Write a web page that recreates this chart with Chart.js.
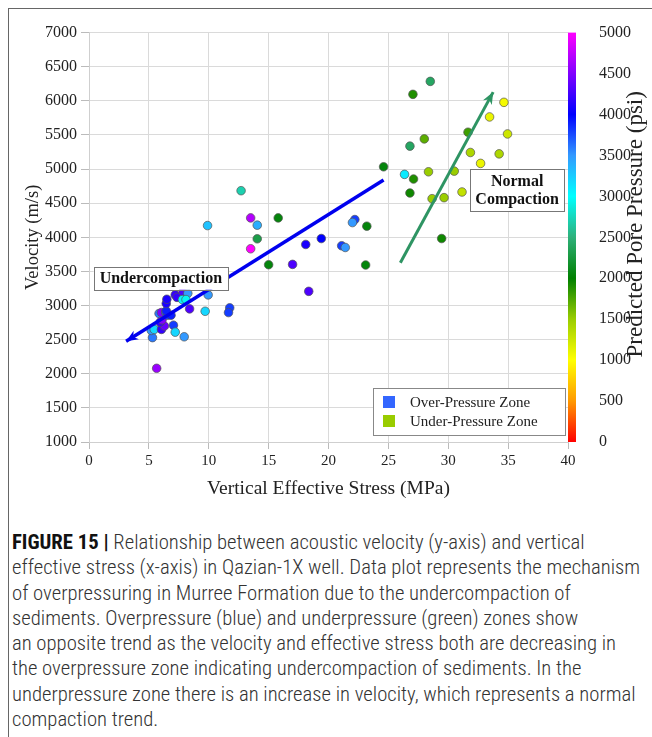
<!DOCTYPE html>
<html>
<head>
<meta charset="utf-8">
<script src="https://cdn.jsdelivr.net/npm/chart.js@4/dist/chart.umd.min.js"></script>
<style>
  html, body { margin: 0; padding: 0; background: #fff; }
  body { width: 652px; height: 737px; position: relative; overflow: hidden; }
  #frame { position: absolute; left: 8px; top: 8px; width: 700px; height: 800px;
           border-left: 1px solid #666; border-top: 1px solid #666; }
  #wrap { position: absolute; left: 0; top: 0; width: 652px; height: 505px; }
  #caption { position: absolute; left: 12px; top: 530px; white-space: nowrap;
             font-family: "Liberation Sans Narrow", "Roboto Condensed", Roboto, sans-serif;
             font-size: 20.7px; line-height: 25.3px; color: #333; font-weight: 300; }
  #caption b { font-weight: bold; color: #111; }
</style>
</head>
<body>
<div id="frame"></div>
<div id="wrap"><canvas id="chart" width="652" height="505"></canvas></div>
<div id="caption">
<b>FIGURE 15 |</b> Relationship between acoustic velocity (y-axis) and vertical<br>
effective stress (x-axis) in Qazian-1X well. Data plot represents the mechanism<br>
of overpressuring in Murree Formation due to the undercompaction of<br>
sediments. Overpressure (blue) and underpressure (green) zones show<br>
an opposite trend as the velocity and effective stress both are decreasing in<br>
the overpressure zone indicating undercompaction of sediments. In the<br>
underpressure zone there is an increase in velocity, which represents a normal<br>
compaction trend.
</div>
<script>
// Over-pressure zone samples: effective stress (MPa), velocity (m/s), pore pressure (psi)
const stressOver = [5.65, 5.3, 5.2, 5.45, 6.05, 6.3, 5.95, 6.1, 5.85, 6.05, 6.4, 6.55, 6.85, 6.45, 6.45, 6.5,
                    7.05, 7.2, 7.95, 7.2, 7.35, 7.85, 8.25, 7.8, 8.1, 8.4, 9.7, 9.95, 11.75, 11.65,
                    9.9, 13.5, 13.5, 14.05, 17.0, 18.1, 19.4, 18.35, 21.1, 21.4, 22.2, 22.0, 26.35];
const velocityOver = [2080, 2530, 2635, 2650, 2650, 2700, 2756, 2790, 2883, 2897, 2900, 2858, 2858, 2922, 3029, 3092,
                      2712, 2610, 2542, 3156, 3120, 3200, 3179, 3087, 3087, 2951, 2916, 3156, 2966, 2897,
                      4172, 4284, 3832, 4178, 3603, 3895, 3982, 3208, 3876, 3851, 4260, 4216, 4922];
const pressureOver = [4600, 3600, 3500, 3200, 4200, 4400, 4200, 4500, 3600, 4500, 3700, 3800, 3900, 3900, 4100, 4100,
                      3800, 3200, 3500, 4200, 4200, 4300, 3500, 3050, 2950, 4300, 3200, 3500, 3800, 3800,
                      3300, 4700, 5000, 3400, 4300, 4100, 4000, 4300, 3800, 3500, 3800, 3500, 3100];

// Under-pressure zone samples
const stressUnder = [12.7, 14.05, 15.8, 15.0, 23.2, 23.1, 24.6,
                     28.5, 27.05, 34.65, 33.45, 31.65, 34.95, 28.0, 26.8, 31.85, 34.25, 32.7,
                     28.35, 30.5, 27.1, 26.8, 28.65, 29.65, 31.15, 29.45];
const velocityUnder = [4683, 3978, 4284, 3598, 4163, 3594, 5033,
                       6285, 6095, 5978, 5764, 5540, 5515, 5442, 5336, 5243, 5223, 5083,
                       4960, 4970, 4854, 4649, 4566, 4581, 4664, 3982];
const pressureUnder = [2700, 2300, 2050, 2050, 2050, 2050, 2050,
                       2400, 1900, 1050, 1100, 1800, 1250, 1700, 2400, 1400, 1400, 1100,
                       1500, 1500, 1900, 1950, 1500, 1500, 1300, 1950];

// Trend arrows (tail -> head) in data units
const undercompactionX = [24.6, 3.1];
const undercompactionY = [4840, 2475];
const normalCompactionX = [26.0, 33.75];
const normalCompactionY = [3627, 6128];

// Axis ticks
const stressTicks = [0, 5, 10, 15, 20, 25, 30, 35, 40];
const velocityTicks = [1000, 1500, 2000, 2500, 3000, 3500, 4000, 4500, 5000, 5500, 6000, 6500, 7000];
const pressureTicks = [0, 500, 1000, 1500, 2000, 2500, 3000, 3500, 4000, 4500, 5000];

// Colour scale for pore pressure
const cmapValues = [0, 500, 1000, 1500, 2000, 2500, 3000, 3500, 4000, 4500, 5000];
const cmapColors = ['#ff0000', '#ff9900', '#ffff00', '#9acd00', '#008000', '#2eb07a',
                    '#00ffff', '#3399ff', '#0000ff', '#8000ff', '#ff00ff'];

const legendNames = ['Over-Pressure Zone', 'Under-Pressure Zone'];
const legendColors = ['#3366ff', '#99cc00'];

function hexToRgb(h) {
  return [parseInt(h.slice(1, 3), 16), parseInt(h.slice(3, 5), 16), parseInt(h.slice(5, 7), 16)];
}
function pressureColor(v) {
  if (v <= cmapValues[0]) return cmapColors[0];
  for (let i = 1; i < cmapValues.length; i++) {
    if (v <= cmapValues[i]) {
      const t = (v - cmapValues[i - 1]) / (cmapValues[i] - cmapValues[i - 1]);
      const a = hexToRgb(cmapColors[i - 1]), b = hexToRgb(cmapColors[i]);
      const c = a.map((x, k) => Math.round(x + (b[k] - x) * t));
      return `rgb(${c[0]},${c[1]},${c[2]})`;
    }
  }
  return cmapColors[cmapColors.length - 1];
}
const zip = (xs, ys) => xs.map((x, i) => ({ x, y: ys[i] }));

const serif = 'Liberation Serif, Times New Roman, serif';
const ink = '#222';
Chart.defaults.font.family = serif;
Chart.defaults.color = ink;

// Gradient bar + its title, next to the plot
const colorBarPlugin = {
  id: 'colorBar',
  afterDraw(chart) {
    const { ctx, chartArea } = chart;
    const s = chart.scales.psi;
    const x0 = chartArea.right, w = 8;
    const yTop = s.getPixelForValue(5000), yBot = s.getPixelForValue(0);
    const g = ctx.createLinearGradient(0, yBot, 0, yTop);
    cmapValues.forEach((v, i) => g.addColorStop(v / 5000, cmapColors[i]));
    ctx.save();
    ctx.fillStyle = g;
    ctx.fillRect(x0, yTop, w, yBot - yTop);
    ctx.translate(636, (yTop + yBot) / 2 - 13);
    ctx.rotate(-Math.PI / 2);
    ctx.font = `23px ${serif}`;
    ctx.fillStyle = ink;
    ctx.textAlign = 'center';
    ctx.textBaseline = 'middle';
    ctx.fillText('Predicted Pore Pressure (psi)', 0, 0);
    ctx.restore();
  }
};

// Arrow heads on the trend lines, text boxes and the in-plot legend
const annotatePlugin = {
  id: 'annotate',
  afterDatasetsDraw(chart) {
    const { ctx, chartArea } = chart;
    const xs = chart.scales.x, ys = chart.scales.y;
    const arrow = (X, Y, color) => {
      const n = X.length;
      const x1 = xs.getPixelForValue(X[n - 2]), y1 = ys.getPixelForValue(Y[n - 2]);
      const x2 = xs.getPixelForValue(X[n - 1]), y2 = ys.getPixelForValue(Y[n - 1]);
      const a = Math.atan2(y2 - y1, x2 - x1);
      const L = 12, W = 5;
      ctx.save();
      ctx.fillStyle = color;
      ctx.beginPath();
      ctx.moveTo(x2, y2);
      ctx.lineTo(x2 - L * Math.cos(a) + W * Math.sin(a), y2 - L * Math.sin(a) - W * Math.cos(a));
      ctx.lineTo(x2 - L * 0.7 * Math.cos(a), y2 - L * 0.7 * Math.sin(a));
      ctx.lineTo(x2 - L * Math.cos(a) - W * Math.sin(a), y2 - L * Math.sin(a) + W * Math.cos(a));
      ctx.closePath();
      ctx.fill();
      ctx.restore();
    };
    arrow(undercompactionX, undercompactionY, '#0000ee');
    arrow(normalCompactionX, normalCompactionY, '#2e9463');

    const textBox = (lines, cx, cy, lh, pad) => {
      ctx.save();
      ctx.font = `bold 16px ${serif}`;
      const w = Math.max(...lines.map(t => ctx.measureText(t).width)) + pad * 2;
      const h = lines.length * lh + 6;
      const px = xs.getPixelForValue(cx), py = ys.getPixelForValue(cy);
      ctx.fillStyle = '#fff';
      ctx.fillRect(px - w / 2, py - h / 2, w, h);
      ctx.strokeStyle = '#777';
      ctx.lineWidth = 1;
      ctx.strokeRect(Math.round(px - w / 2) + 0.5, Math.round(py - h / 2) + 0.5, Math.round(w), Math.round(h));
      ctx.fillStyle = '#111';
      ctx.textAlign = 'center';
      ctx.textBaseline = 'middle';
      lines.forEach((t, i) => ctx.fillText(t, px, py - h / 2 + 3 + lh / 2 + i * lh + 1));
      ctx.restore();
    };
    textBox(['Undercompaction'], 6.0, 3400, 17, 6);
    textBox(['Normal', 'Compaction'], 35.75, 4690, 18, 5);

    // legend
    ctx.save();
    const lw = 192, lh = 47;
    const lx = chartArea.right - 3 - lw, ly = chartArea.bottom - 7 - lh;
    ctx.fillStyle = '#fff';
    ctx.fillRect(lx, ly, lw, lh);
    ctx.strokeStyle = '#888';
    ctx.strokeRect(Math.round(lx) + 0.5, Math.round(ly) + 0.5, lw, lh);
    ctx.font = `15px ${serif}`;
    ctx.textBaseline = 'middle';
    legendNames.forEach((name, i) => {
      const yy = ly + 14 + i * 19;
      ctx.fillStyle = legendColors[i];
      ctx.fillRect(lx + 10, yy - 6, 12, 12);
      ctx.fillStyle = ink;
      ctx.fillText(name, lx + 37, yy + 1);
    });
    ctx.restore();
  }
};

const pointStyle = {
  pointRadius: 4.3,
  pointHoverRadius: 4.3,
  pointBorderColor: '#555',
  pointBorderWidth: 0.7,
  showLine: false
};
const plain = v => String(v);

new Chart(document.getElementById('chart'), {
  type: 'scatter',
  data: {
    datasets: [
      { label: 'Undercompaction trend', type: 'line', data: zip(undercompactionX, undercompactionY),
        borderColor: '#0000ee', borderWidth: 3.5, pointRadius: 0, showLine: true, order: 0 },
      { label: 'Normal compaction trend', type: 'line', data: zip(normalCompactionX, normalCompactionY),
        borderColor: '#2e9463', borderWidth: 3, pointRadius: 0, showLine: true, order: 0 },
      { label: legendNames[0], data: zip(stressOver, velocityOver),
        pointBackgroundColor: pressureOver.map(pressureColor), order: 1, ...pointStyle },
      { label: legendNames[1], data: zip(stressUnder, velocityUnder),
        pointBackgroundColor: pressureUnder.map(pressureColor), order: 1, ...pointStyle }
    ]
  },
  options: {
    responsive: false,
    animation: false,
    events: [],
    layout: { padding: { top: 31, left: 0, right: 0, bottom: 0 } },
    plugins: { legend: { display: false }, tooltip: { enabled: false } },
    scales: {
      x: {
        type: 'linear', min: 0, max: 40,
        afterBuildTicks: s => { s.ticks = stressTicks.map(v => ({ value: v })); },
        afterFit: s => { s.height = 63; },
        grid: { color: '#dadada', tickLength: 7, tickColor: '#bbb' },
        border: { color: '#cfcfcf' },
        ticks: { font: { family: serif, size: 15 }, color: ink, padding: 3, maxRotation: 0, callback: plain },
        title: { display: true, text: 'Vertical Effective Stress (MPa)', color: ink,
                 font: { family: serif, size: 19.5 }, padding: { top: 0, bottom: 4 } }
      },
      y: {
        type: 'linear', min: 1000, max: 7000,
        afterBuildTicks: s => { s.ticks = velocityTicks.map(v => ({ value: v })); },
        afterFit: s => { s.width = 89; },
        grid: { color: '#dadada', tickLength: 8, tickColor: '#bbb' },
        border: { color: '#cfcfcf' },
        ticks: { font: { family: serif, size: 16 }, color: ink, padding: 4, callback: plain },
        title: { display: true, text: 'Velocity (m/s)', color: ink,
                 font: { family: serif, size: 18.5 }, padding: { top: 22, bottom: 0 } }
      },
      psi: {
        type: 'linear', position: 'right', min: 0, max: 5000,
        afterBuildTicks: s => { s.ticks = pressureTicks.map(v => ({ value: v })); },
        afterFit: s => { s.width = 84; },
        grid: { display: false, drawOnChartArea: false },
        border: { display: false },
        ticks: { font: { family: serif, size: 16 }, color: ink, padding: 23, callback: plain }
      }
    }
  },
  plugins: [colorBarPlugin, annotatePlugin]
});
</script>
</body>
</html>
